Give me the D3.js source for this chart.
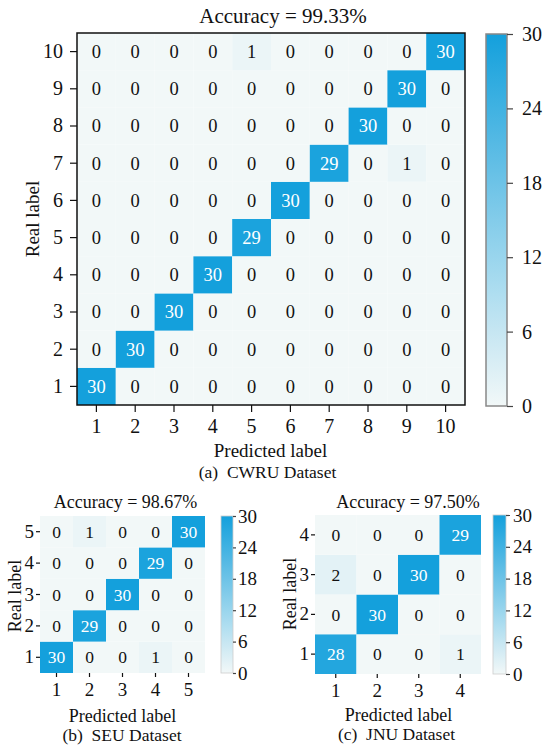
<!DOCTYPE html>
<html>
<head>
<meta charset="utf-8">
<script src="https://cdn.jsdelivr.net/npm/d3@7"></script>
<style>
    body { margin: 0; background: #fff; }
    svg { display: block; font-family: "Liberation Serif", "Times New Roman", serif; }
</style>
</head>
<body>
<svg id="fig" width="550" height="752"></svg>
<script>
// Confusion matrices. Row i = real label i+1 (bottom row first), column j = predicted label j+1
const cwruLabels = [1, 2, 3, 4, 5, 6, 7, 8, 9, 10];
const cwruRows = [
    [30, 0, 0, 0, 0, 0, 0, 0, 0, 0],
    [0, 30, 0, 0, 0, 0, 0, 0, 0, 0],
    [0, 0, 30, 0, 0, 0, 0, 0, 0, 0],
    [0, 0, 0, 30, 0, 0, 0, 0, 0, 0],
    [0, 0, 0, 0, 29, 0, 0, 0, 0, 0],
    [0, 0, 0, 0, 0, 30, 0, 0, 0, 0],
    [0, 0, 0, 0, 0, 0, 29, 0, 1, 0],
    [0, 0, 0, 0, 0, 0, 0, 30, 0, 0],
    [0, 0, 0, 0, 0, 0, 0, 0, 30, 0],
    [0, 0, 0, 0, 1, 0, 0, 0, 0, 30]
];

const seuLabels = [1, 2, 3, 4, 5];
const seuRows = [
    [30, 0, 0, 1, 0],
    [0, 29, 0, 0, 0],
    [0, 0, 30, 0, 0],
    [0, 0, 0, 29, 0],
    [0, 1, 0, 0, 30]
];

const jnuLabels = [1, 2, 3, 4];
const jnuRows = [
    [28, 0, 0, 1],
    [0, 30, 0, 0],
    [2, 0, 30, 0],
    [0, 0, 0, 29]
];

const accuracies = ['99.33%', '98.67%', '97.50%'];
const captions = ['(a)  CWRU Dataset', '(b)  SEU Dataset', '(c)  JNU Dataset'];
const colorbarTicks = [0, 6, 12, 18, 24, 30];
const colorMax = 30;

const color = d3.scaleLinear()
    .domain([0, colorMax])
    .range(['#f2f8f8', '#14a0dc'])
    .interpolate(d3.interpolateRgb);

const svg = d3.select('#fig');
const defs = svg.append('defs');

// one gradient shared by all colorbars (top = max)
const grad = defs.append('linearGradient')
    .attr('id', 'cbar-grad')
    .attr('x1', 0).attr('y1', 1).attr('x2', 0).attr('y2', 0);
d3.range(0, 1.0001, 0.1).forEach(t => {
    grad.append('stop')
        .attr('offset', t)
        .attr('stop-color', color(t * colorMax));
});

function styleAxis(a, p, tickColor) {
    a.attr('font-family', null).attr('font-size', null);
    a.select('.domain').remove();
    a.selectAll('.tick line').attr('stroke', tickColor).attr('stroke-width', 1.2);
    a.selectAll('.tick text')
        .attr('font-size', p.tickFont)
        .attr('fill', '#111');
}

function drawPanel(p) {
    const g = svg.append('g').attr('class', p.name);

    const x = d3.scaleBand().domain(p.labels).range([p.left, p.right]);
    const y = d3.scaleBand().domain(p.labels).range([p.bottom, p.top]);

    const cells = [];
    p.rows.forEach((row, i) => {
        row.forEach((v, j) => cells.push({ real: p.labels[i], pred: p.labels[j], v }));
    });

    g.append('g').selectAll('rect')
        .data(cells)
        .join('rect')
        .attr('x', d => x(d.pred))
        .attr('y', d => y(d.real))
        .attr('width', x.bandwidth())
        .attr('height', y.bandwidth())
        .attr('fill', d => color(d.v));

    g.append('g').selectAll('text')
        .data(cells)
        .join('text')
        .attr('x', d => x(d.pred) + x.bandwidth() / 2)
        .attr('y', d => y(d.real) + y.bandwidth() / 2)
        .attr('dy', '0.35em')
        .attr('text-anchor', 'middle')
        .attr('font-size', p.cellFont)
        .attr('fill', d => d.v > colorMax / 2 ? '#fff' : '#111')
        .text(d => d.v);

    if (p.frame) {
        g.append('rect')
            .attr('x', p.left).attr('y', p.top)
            .attr('width', p.right - p.left).attr('height', p.bottom - p.top)
            .attr('fill', 'none')
            .attr('stroke', '#111')
            .attr('stroke-width', 1.5);
    }

    // axes
    const xAxis = g.append('g')
        .attr('transform', `translate(0,${p.bottom})`)
        .call(d3.axisBottom(x).tickSize(p.tick).tickPadding(p.xPad));
    const yAxis = g.append('g')
        .attr('transform', `translate(${p.left},0)`)
        .call(d3.axisLeft(y).tickSize(p.tick).tickPadding(p.yPad));
    styleAxis(xAxis, p, '#111');
    styleAxis(yAxis, p, '#111');

    // colorbar
    const cy = d3.scaleLinear().domain([0, colorMax]).range([p.cbBottom, p.cbTop]);
    g.append('rect')
        .attr('x', p.cbLeft).attr('y', p.cbTop)
        .attr('width', p.cbRight - p.cbLeft).attr('height', p.cbBottom - p.cbTop)
        .attr('fill', 'url(#cbar-grad)')
        .attr('stroke', p.cbStroke)
        .attr('stroke-width', p.frame ? 1.5 : 0.8);
    const cAxis = g.append('g')
        .attr('transform', `translate(${p.cbRight},0)`)
        .call(d3.axisRight(cy).tickValues(colorbarTicks).tickSize(p.cbTick).tickPadding(p.cbPad));
    styleAxis(cAxis, p, '#444');

    // titles and labels
    g.append('text')
        .attr('x', p.titleX).attr('y', p.titleY)
        .attr('text-anchor', 'middle')
        .attr('font-size', p.titleFont)
        .attr('fill', '#111')
        .text(`Accuracy = ${p.accuracy}`);

    g.append('text')
        .attr('x', p.xLabelX).attr('y', p.xLabelY)
        .attr('text-anchor', 'middle')
        .attr('font-size', p.labelFont)
        .attr('fill', '#111')
        .text('Predicted label');

    g.append('text')
        .attr('transform', `translate(${p.yLabelX},${p.yLabelY}) rotate(-90)`)
        .attr('dy', '0.35em')
        .attr('text-anchor', 'middle')
        .attr('font-size', p.labelFont)
        .attr('fill', '#111')
        .text('Real label');

    g.append('text')
        .attr('x', p.capX).attr('y', p.capY)
        .attr('text-anchor', 'middle')
        .attr('font-size', p.capFont)
        .attr('fill', '#111')
        .style('white-space', 'pre')
        .text(p.caption);
}

const panels = [
    {
        name: 'cwru', labels: cwruLabels, rows: cwruRows, accuracy: accuracies[0], caption: captions[0],
        left: 77, right: 465, top: 33, bottom: 405, frame: true,
        cellFont: 18.5, tickFont: 20, labelFont: 19, titleFont: 21, capFont: 17.5,
        tick: 7, xPad: 7, yPad: 7,
        cbLeft: 486, cbRight: 507, cbTop: 34, cbBottom: 406, cbStroke: '#888', cbTick: 6, cbPad: 9,
        titleX: 283, titleY: 23, xLabelX: 270.5, xLabelY: 457, yLabelX: 32, yLabelY: 219,
        capX: 267.5, capY: 478
    },
    {
        name: 'seu', labels: seuLabels, rows: seuRows, accuracy: accuracies[1], caption: captions[1],
        left: 40, right: 205, top: 516, bottom: 673, frame: false,
        cellFont: 17.5, tickFont: 19, labelFont: 18, titleFont: 18, capFont: 17.5,
        tick: 4, xPad: 6, yPad: 2,
        cbLeft: 221, cbRight: 233, cbTop: 516, cbBottom: 673, cbStroke: '#ccc', cbTick: 3, cbPad: 2,
        titleX: 125.5, titleY: 508, xLabelX: 122.5, xLabelY: 722, yLabelX: 15, yLabelY: 596,
        capX: 122, capY: 741
    },
    {
        name: 'jnu', labels: jnuLabels, rows: jnuRows, accuracy: accuracies[2], caption: captions[2],
        left: 315, right: 481, top: 515, bottom: 674, frame: false,
        cellFont: 17.5, tickFont: 19, labelFont: 18, titleFont: 18, capFont: 17.5,
        tick: 4, xPad: 6, yPad: 2,
        cbLeft: 493, cbRight: 506, cbTop: 515, cbBottom: 674, cbStroke: '#ccc', cbTick: 4, cbPad: 3,
        titleX: 408, titleY: 508, xLabelX: 398.5, xLabelY: 721, yLabelX: 289.5, yLabelY: 594,
        capX: 396.5, capY: 740
    }
];

panels.forEach(drawPanel);
</script>
</body>
</html>
